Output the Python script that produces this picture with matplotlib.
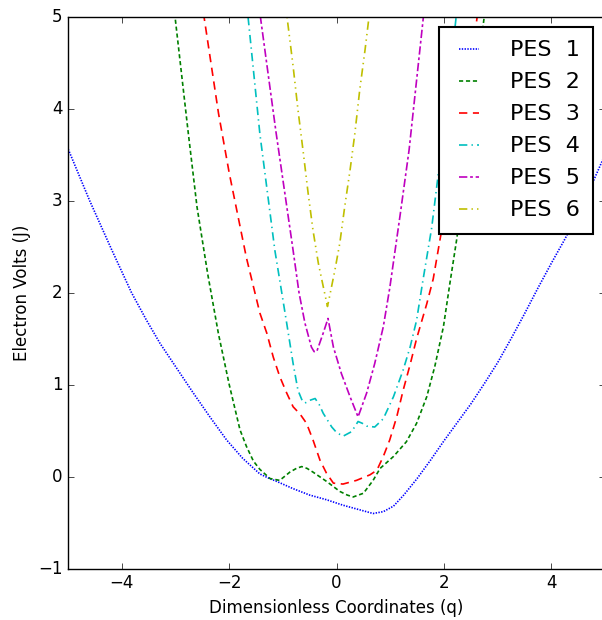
import matplotlib
matplotlib.use("Agg")
import matplotlib.pyplot as plt

# ---- data ----
x1 = [-5.0, -4.6, -4.2, -3.82, -3.55, -3.29, -2.98, -2.67, -2.36, -2.05, -1.75, -1.43, -1.25, -1.12,
      -0.81, -0.5, -0.19, 0.12, 0.43, 0.68, 0.87, 1.06, 1.25, 1.5, 1.75, 2.0, 2.25, 2.5, 2.75, 3.0,
      3.25, 3.5, 3.75, 4.0, 4.25, 4.5, 4.75, 5.0]
y1 = [3.56, 3.0, 2.48, 2.0, 1.71, 1.45, 1.18, 0.91, 0.65, 0.40, 0.20, 0.03, -0.02, -0.05,
      -0.13, -0.20, -0.25, -0.31, -0.36, -0.40, -0.38, -0.32, -0.20, -0.02, 0.18, 0.39, 0.59, 0.79, 1.01, 1.24,
      1.50, 1.77, 2.05, 2.32, 2.58, 2.86, 3.17, 3.50]

x2 = [-3.05, -3.01, -2.77, -2.6, -2.4, -2.2, -2.0, -1.8, -1.68, -1.55, -1.43, -1.24, -1.06, -0.87,
      -0.75, -0.65, -0.55, -0.44, -0.19, 0.06, 0.2, 0.31, 0.5, 0.68, 0.81, 1.06, 1.3, 1.49, 1.68,
      1.83, 1.99, 2.11, 2.24, 2.5, 2.75, 2.8]
y2 = [5.2, 5.0, 3.77, 2.93, 2.2, 1.55, 1.0, 0.51, 0.33, 0.17, 0.08, -0.02, -0.04, 0.05,
      0.09, 0.11, 0.09, 0.05, -0.05, -0.16, -0.20, -0.22, -0.18, -0.04, 0.09, 0.22, 0.38, 0.58, 0.87,
      1.20, 1.63, 2.10, 2.59, 3.8, 5.0, 5.2]

x3 = [-2.52, -2.47, -2.2, -2.0, -1.68, -1.43, -1.3, -1.18, -1.06, -0.93, -0.81, -0.68, -0.56,
      -0.44, -0.31, -0.19, -0.06, 0.12, 0.37, 0.62, 0.75, 0.87, 0.99, 1.12, 1.24, 1.37, 1.49,
      1.68, 1.8, 1.93, 2.3, 2.61, 2.66]
y3 = [5.2, 5.0, 3.95, 3.3, 2.38, 1.78, 1.56, 1.3, 1.09, 0.91, 0.76, 0.68, 0.58,
      0.40, 0.18, 0.04, -0.07, -0.08, -0.04, 0.02, 0.07, 0.22, 0.40, 0.65, 0.94, 1.22, 1.50,
      1.88, 2.15, 2.59, 3.8, 4.96, 5.2]

x4 = [-1.68, -1.65, -1.43, -1.15, -1.03, -0.93, -0.81, -0.72, -0.65, -0.59, -0.5, -0.4, -0.32,
      -0.25, -0.09, 0.0, 0.12, 0.28, 0.4, 0.48, 0.56, 0.71, 0.87, 1.06, 1.24, 1.37, 1.49, 1.61,
      1.77, 1.89, 2.05, 2.22, 2.26]
y4 = [5.2, 5.0, 3.73, 2.46, 2.03, 1.67, 1.23, 0.94, 0.84, 0.80, 0.83, 0.85, 0.78,
      0.69, 0.54, 0.48, 0.44, 0.49, 0.60, 0.58, 0.55, 0.54, 0.63, 0.87, 1.16, 1.41, 1.70, 2.14,
      2.70, 3.27, 4.05, 4.96, 5.2]

x5 = [-1.45, -1.42, -1.13, -0.82, -0.7, -0.59, -0.47, -0.42, -0.37, -0.25, -0.16, -0.06, 0.09,
      0.25, 0.4, 0.56, 0.71, 0.87, 0.99, 1.18, 1.35, 1.61, 1.65]
y5 = [5.2, 5.0, 3.75, 2.5, 2.0, 1.67, 1.41, 1.36, 1.36, 1.56, 1.72, 1.41, 1.12,
      0.87, 0.65, 0.91, 1.23, 1.63, 2.05, 2.83, 3.55, 4.96, 5.2]

x6 = [-0.96, -0.92, -0.81, -0.72, -0.62, -0.53, -0.44, -0.34, -0.25, -0.17, -0.12, -0.03, 0.06,
      0.15, 0.25, 0.34, 0.43, 0.53, 0.6, 0.64]
y6 = [5.2, 4.98, 4.46, 3.99, 3.52, 3.08, 2.68, 2.32, 2.07, 1.85, 1.99, 2.25, 2.54,
      2.93, 3.33, 3.73, 4.2, 4.64, 4.98, 5.2]

labels = ["PES  1", "PES  2", "PES  3", "PES  4", "PES  5", "PES  6"]
colors = ["b", "g", "r", "c", "m", "y"]
styles = [(0, (1, 1)), (0, (3, 2)), (0, (6, 4)), (0, (6, 3, 1, 3)),
          (0, (6, 2, 2, 2)), (0, (6, 3, 1, 3, 1, 3))]

plt.style.use("classic")
plt.rcParams["figure.facecolor"] = "white"
plt.rcParams["savefig.facecolor"] = "white"

fig = plt.figure(figsize=(6.02, 6.20), dpi=100)
ax = fig.add_axes([68.2 / 602, 51.3 / 620, (605 - 68.2) / 602, (568.7 - 16.7) / 620])

xs = [x1, x2, x3, x4, x5, x6]
ys = [y1, y2, y3, y4, y5, y6]
for xv, yv, c, ls, lab in zip(xs, ys, colors, styles, labels):
    ax.plot(xv, yv, color=c, linestyle=ls, linewidth=1.2, label=lab)

ax.set_xlim(-5, 5)
ax.set_ylim(-1, 5)
ax.set_xticks([-4, -2, 0, 2, 4])
ax.set_yticks([-1, 0, 1, 2, 3, 4, 5])
ax.set_xlabel("Dimensionless Coordinates (q)", fontsize=12)
ax.set_ylabel("Electron Volts (J)", fontsize=12)
ax.tick_params(labelsize=12)

leg = ax.legend(loc="upper right", bbox_to_anchor=(593 / 602, 1 - 27 / 620),
                bbox_transform=fig.transFigure, borderaxespad=0, fontsize=16,
                handlelength=1.5, handletextpad=1.1, labelspacing=0.54, borderpad=0.6)
leg.get_frame().set_linewidth(1.5)

fig.savefig("out.png", dpi=100)
